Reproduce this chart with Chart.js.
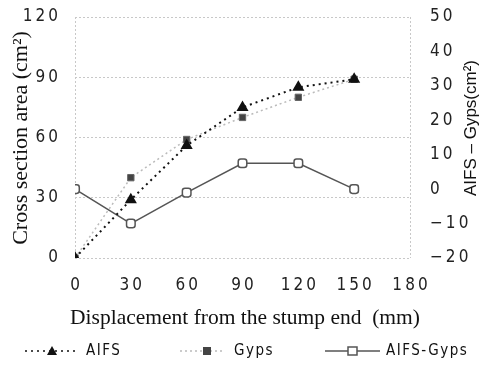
<!DOCTYPE html>
<html>
<head>
<meta charset="utf-8">
<script src="https://cdn.jsdelivr.net/npm/chart.js@4.4.1/dist/chart.umd.min.js"></script>
<style>
html,body{margin:0;padding:0;background:#fff}
</style>
</head>
<body>
<canvas id="areaChart" width="490" height="366"></canvas>
<script>
// values
const displacement = [0, 30, 60, 90, 120, 150];
const aifs = [0, 29, 56, 75, 85, 89];
const gyps = [0, 40, 59, 70, 80, 89];
const aifsMinusGyps = [0, -10, -1, 7.5, 7.5, 0];
const xTicks = [0, 30, 60, 90, 120, 150, 180];
const leftTicks = [0, 30, 60, 90, 120];
const rightTicks = [-20, -10, 0, 10, 20, 30, 40, 50];

const tickFont = '"DejaVu Sans Condensed","Liberation Sans",sans-serif';
const spaced = v => String(v).replace('-', '\u2212').split('').join('\u2009');
const pts = arr => arr.map((v, i) => ({x: displacement[i], y: v}));

const titlesAndLegend = {
    id: 'titlesAndLegend',
    afterDraw(chart){
        const ctx = chart.ctx;
        ctx.save();
        ctx.fillStyle = '#111';
        ctx.textBaseline = 'middle';

        // left axis title
        ctx.save();
        ctx.translate(21, 138);
        ctx.rotate(-Math.PI / 2);
        ctx.textAlign = 'center';
        ctx.font = '22px "Liberation Serif"';
        ctx.fillText('Cross section area (cm\u00b2)', 0, 0);
        ctx.restore();

        // right axis title
        ctx.save();
        ctx.translate(471, 128);
        ctx.rotate(-Math.PI / 2);
        ctx.textAlign = 'center';
        ctx.font = '17px "Liberation Sans"';
        ctx.fillText('AIFS \u2013 Gyps(cm\u00b2)', 0, 0);
        ctx.restore();

        // x axis title
        ctx.textAlign = 'center';
        ctx.font = '21.5px "Liberation Serif"';
        ctx.fillText('Displacement from the stump end  (mm)', 245, 318);

        // legend
        const ly = 351;
        ctx.font = '15px ' + tickFont;
        ctx.letterSpacing = '1.5px';
        ctx.textAlign = 'left';

        ctx.strokeStyle = '#111';
        ctx.lineWidth = 1.5;
        ctx.setLineDash([2, 4]);
        ctx.beginPath(); ctx.moveTo(25, ly); ctx.lineTo(78, ly); ctx.stroke();
        ctx.setLineDash([]);
        ctx.beginPath(); ctx.moveTo(52, ly - 5); ctx.lineTo(57, ly + 4); ctx.lineTo(47, ly + 4); ctx.closePath(); ctx.fill();
        ctx.fillText('AIFS', 86, ly);

        ctx.strokeStyle = '#bbb';
        ctx.setLineDash([2, 3]);
        ctx.beginPath(); ctx.moveTo(180, ly); ctx.lineTo(222, ly); ctx.stroke();
        ctx.setLineDash([]);
        ctx.fillStyle = '#444';
        ctx.fillRect(203, ly - 4, 8, 8);
        ctx.fillStyle = '#111';
        ctx.fillText('Gyps', 234, ly);

        ctx.strokeStyle = '#555';
        ctx.beginPath(); ctx.moveTo(325, ly); ctx.lineTo(380, ly); ctx.stroke();
        ctx.fillStyle = '#fff';
        ctx.fillRect(348, ly - 4, 9, 8);
        ctx.strokeRect(348, ly - 4, 9, 8);
        ctx.fillStyle = '#111';
        ctx.fillText('AIFS-Gyps', 386, ly);
        ctx.restore();
    }
};

const fitVertical = w => s => { s.width = w; s.paddingTop = 0; s.paddingBottom = 0; };

new Chart(document.getElementById('areaChart'), {
    type: 'line',
    data: {
        datasets: [
            {
                label: 'AIFS',
                data: pts(aifs),
                yAxisID: 'y',
                borderColor: '#111',
                borderWidth: 2,
                borderDash: [2, 4],
                pointStyle: 'triangle',
                pointRadius: 5,
                pointBackgroundColor: '#111',
                pointBorderColor: '#111',
                order: 1
            },
            {
                label: 'Gyps',
                data: pts(gyps),
                yAxisID: 'y',
                borderColor: '#bbb',
                borderWidth: 1.5,
                borderDash: [2, 3],
                pointStyle: 'rect',
                pointRadius: 4.5,
                pointBackgroundColor: '#444',
                pointBorderColor: '#666',
                pointBorderWidth: 1,
                order: 2
            },
            {
                label: 'AIFS-Gyps',
                data: pts(aifsMinusGyps),
                yAxisID: 'y2',
                borderColor: '#555',
                borderWidth: 1.5,
                pointStyle: 'rectRounded',
                pointRadius: 5,
                pointBackgroundColor: '#fff',
                pointBorderColor: '#555',
                pointBorderWidth: 1.5,
                order: 3
            }
        ]
    },
    options: {
        responsive: false,
        animation: false,
        layout: {padding: {top: 17, left: 0, right: 0, bottom: 0}},
        plugins: {legend: {display: false}, tooltip: {enabled: false}},
        scales: {
            x: {
                type: 'linear',
                min: 0, max: 180,
                afterBuildTicks: s => { s.ticks = xTicks.map(v => ({value: v})); },
                afterFit: s => { s.height = 108; s.paddingLeft = 0; s.paddingRight = 0; },
                grid: {
                    color: c => (c.tick && (c.tick.value === 0 || c.tick.value === 180)) ? '#c8c8c8' : 'rgba(0,0,0,0)',
                    drawTicks: false
                },
                border: {display: false, dash: [2, 2]},
                ticks: {
                    padding: 17,
                    maxRotation: 0,
                    color: '#222',
                    font: {family: tickFont, size: 17},
                    callback: v => spaced(v)
                }
            },
            y: {
                position: 'left',
                min: 0, max: 120,
                afterBuildTicks: s => { s.ticks = leftTicks.map(v => ({value: v})); },
                afterFit: fitVertical(75),
                grid: {color: '#c8c8c8', drawTicks: false},
                border: {display: false, dash: [2, 2]},
                ticks: {
                    padding: 17,
                    color: '#222',
                    font: {family: tickFont, size: 17},
                    callback: v => spaced(v)
                }
            },
            y2: {
                position: 'right',
                min: -20, max: 50,
                afterBuildTicks: s => { s.ticks = rightTicks.map(v => ({value: v})); },
                afterFit: fitVertical(80),
                grid: {display: false, drawTicks: false},
                border: {display: false},
                ticks: {
                    padding: 20,
                    color: '#222',
                    font: {family: tickFont, size: 17},
                    callback: v => spaced(v)
                }
            }
        }
    },
    plugins: [titlesAndLegend]
});
</script>
</body>
</html>
